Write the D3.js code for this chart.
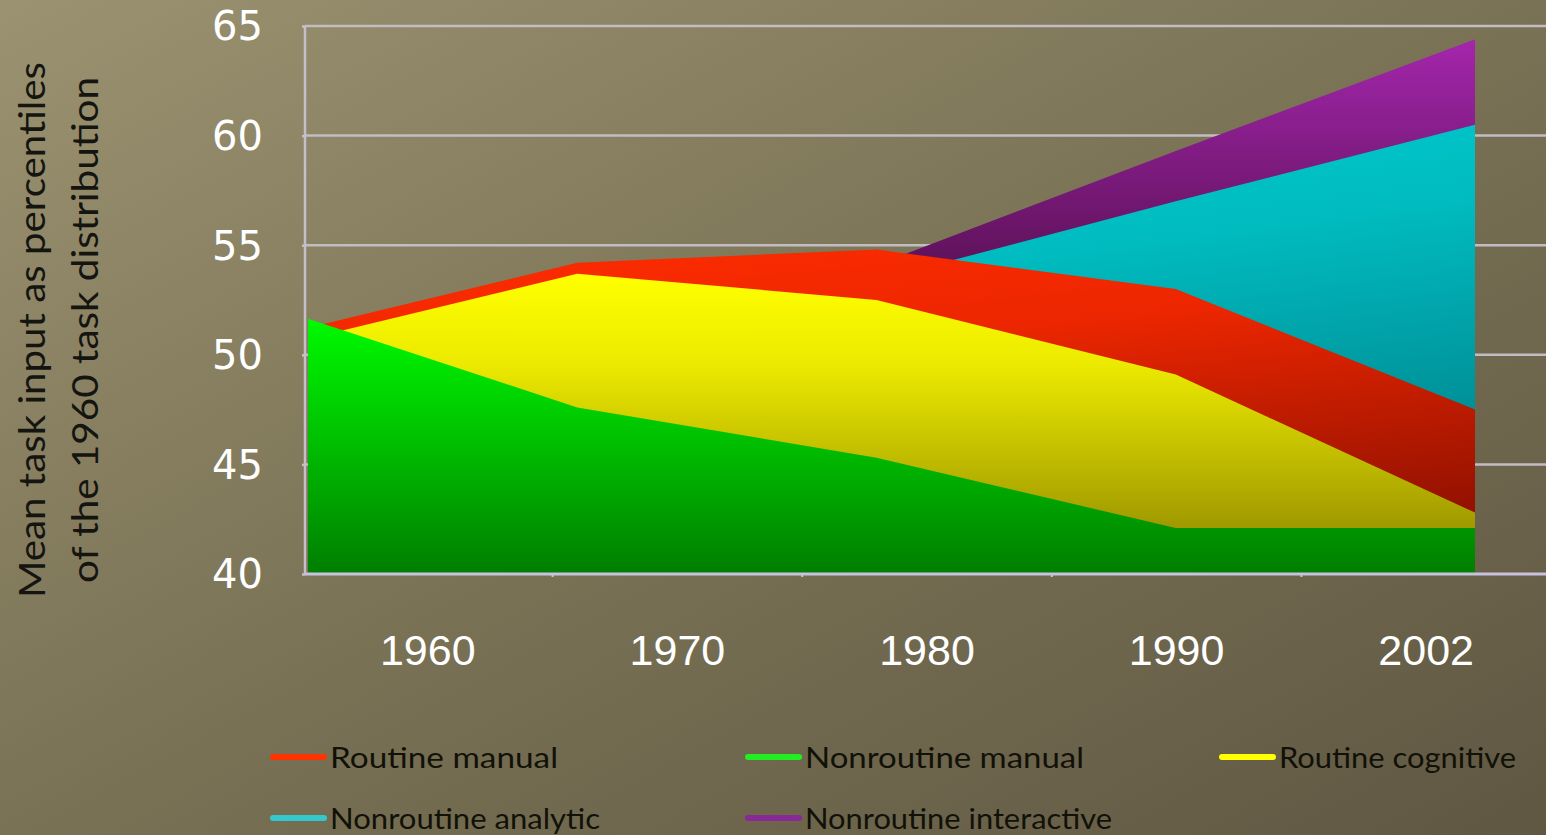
<!DOCTYPE html>
<html>
<head>
<meta charset="utf-8">
<script src="https://cdn.jsdelivr.net/npm/d3@7"></script>
<style>
  html, body { margin: 0; padding: 0; background: #7a7254; overflow: hidden; }
  svg { display: block; }
</style>
</head>
<body>
<svg id="chart" width="1546" height="835"></svg>
<script>
// ---------------- data ----------------
const years = ["1960", "1970", "1980", "1990", "2002"];
const yTicks = [40, 45, 50, 55, 60, 65];
const seriesNames = ["Routine manual", "Nonroutine manual", "Routine cognitive", "Nonroutine analytic", "Nonroutine interactive"];
const routineManual        = [50.9, 54.2, 54.8, 53.0, 47.5];
const nonroutineManual     = [52.1, 47.6, 45.3, 42.1, 42.1];
const routineCognitive     = [50.4, 53.7, 52.5, 49.1, 42.8];
const nonroutineAnalytic   = [50.0, 51.0, 53.4, 57.0, 60.5];
const nonroutineInteractive = [49.5, 51.5, 54.1, 59.3, 64.4];
const yTitle = ["Mean task input as percentiles", "of  the 1960 task distribution"];

// ---------------- layout ----------------
const W = 1546, H = 835;
const plotL = 305, plotR = 1546, plotT = 26, plotB = 574;

const svg = d3.select("#chart");
const defs = svg.append("defs");

// background gradient
const bg = defs.append("linearGradient").attr("id", "bg")
  .attr("x1", 0).attr("y1", 0).attr("x2", 1).attr("y2", 1);
bg.append("stop").attr("offset", 0).attr("stop-color", "#9a9270");
bg.append("stop").attr("offset", 0.5).attr("stop-color", "#7a7255");
bg.append("stop").attr("offset", 1).attr("stop-color", "#5f5742");
svg.append("rect").attr("width", W).attr("height", H).attr("fill", "url(#bg)");

const y = d3.scaleLinear().domain([40, 65]).range([plotB, plotT]);
const xBand = d3.scaleBand().domain(years).range([303, 1551]);
const xArea = d3.scaleLinear().domain([0, years.length - 1]).range([278, 1475]);

// gridlines (behind areas)
const grid = svg.append("g");
grid.selectAll("line").data(yTicks.filter(t => t > 40)).join("line")
  .attr("x1", plotL).attr("x2", plotR)
  .attr("y1", d => y(d)).attr("y2", d => y(d))
  .attr("stroke", "#c2bdc4").attr("stroke-width", 2.5);

// area gradients
function grad(id, stops, x2) {
  const g = defs.append("linearGradient").attr("id", id)
    .attr("x1", 0).attr("y1", 0).attr("x2", x2).attr("y2", 1);
  stops.forEach(([o, c]) => g.append("stop").attr("offset", o).attr("stop-color", c));
}
grad("gPurple", [[0, "#a426ac"], [0.4, "#62135f"], [1, "#3a0a3a"]], 0);
grad("gCyan",   [[0, "#00d2d6"], [0.45, "#00bcc0"], [1, "#00838c"]], 0.35);
grad("gRed",    [[0, "#ff2c00"], [0.4, "#ec2600"], [1, "#961200"]], 0.35);
grad("gYellow", [[0, "#ffff00"], [0.3, "#ecea00"], [1, "#8a8200"]], 0);
grad("gGreen",  [[0, "#00ff00"], [0.4, "#00cc00"], [1, "#007e00"]], 0);

defs.append("clipPath").attr("id", "clip")
  .append("rect").attr("x", 308).attr("y", 0).attr("width", 1476 - 308).attr("height", plotB);

const area = d3.area()
  .x((d, i) => xArea(i))
  .y0(y(40))
  .y1(d => y(d));

const layers = [
  { values: nonroutineInteractive, fill: "url(#gPurple)" },
  { values: nonroutineAnalytic,    fill: "url(#gCyan)" },
  { values: routineManual,         fill: "url(#gRed)" },
  { values: routineCognitive,      fill: "url(#gYellow)" },
  { values: nonroutineManual,      fill: "url(#gGreen)" }
];
svg.append("g").attr("clip-path", "url(#clip)")
  .selectAll("path").data(layers).join("path")
  .attr("d", d => area(d.values))
  .attr("fill", d => d.fill);

// left axis line + ticks
const yAxis = d3.axisLeft(y).tickValues(yTicks).tickSize(3).tickFormat("");
const gy = svg.append("g").attr("transform", `translate(${plotL},0)`).call(yAxis);
gy.selectAll("path, line").attr("stroke", "#c4bfca").attr("stroke-width", 2.5);
gy.select(".domain").attr("d", `M0,${plotT}V${plotB}`);

// bottom axis
svg.append("line").attr("x1", plotL).attr("x2", plotR).attr("y1", plotB).attr("y2", plotB)
  .attr("stroke", "#c8c2e0").attr("stroke-width", 3);
svg.append("g").selectAll("line").data(years.slice(1)).join("line")
  .attr("x1", d => xBand(d)).attr("x2", d => xBand(d))
  .attr("y1", plotB).attr("y2", plotB + 3)
  .attr("stroke", "#c8c2e0").attr("stroke-width", 2);

// y tick labels
svg.append("g").selectAll("text").data(yTicks).join("text")
  .attr("x", 263).attr("y", d => y(d))
  .attr("dy", "0.36em")
  .attr("text-anchor", "end")
  .attr("font-family", "DejaVu Sans, Verdana, sans-serif")
  .attr("font-size", 40)
  .attr("fill", "#ffffff")
  .text(d => d);

// x tick labels
svg.append("g").selectAll("text").data(years).join("text")
  .attr("x", d => xBand(d) + xBand.bandwidth() / 2)
  .attr("y", 665)
  .attr("text-anchor", "middle")
  .attr("font-family", "Liberation Sans, Arial, sans-serif")
  .attr("font-size", 43)
  .attr("fill", "#ffffff")
  .text(d => d);

// y axis title
const titleX = [32, 85];
const titleLen = [536, 506];
svg.append("g").selectAll("text").data(yTitle).join("text")
  .attr("transform", (d, i) => `translate(${titleX[i] + 13},330) rotate(-90)`)
  .attr("text-anchor", "middle")
  .attr("font-family", "Lato, Open Sans, sans-serif")
  .attr("font-size", 37)
  .attr("fill", "#141410")
  .attr("textLength", (d, i) => titleLen[i])
  .attr("lengthAdjust", "spacingAndGlyphs")
  .text(d => d);

// legend
const legendColors = ["#ff3300", "#22ee22", "#ffff00", "#33c8cc", "#8a2898"];
const legendPos = [[270, 757], [745, 757], [1219, 757], [270, 818], [745, 818]];
const legendLen = [228, 279, 237, 270, 307];
const lg = svg.append("g").selectAll("g").data(seriesNames).join("g")
  .attr("transform", (d, i) => `translate(${legendPos[i][0]},${legendPos[i][1]})`);
lg.append("line").attr("x1", 3).attr("x2", 54).attr("y1", 0).attr("y2", 0)
  .attr("stroke", (d, i) => legendColors[i]).attr("stroke-width", 6)
  .attr("stroke-linecap", "round");
lg.append("text").attr("x", 60).attr("y", 11)
  .attr("font-family", "Lato, Open Sans, sans-serif")
  .attr("font-size", 29)
  .attr("fill", "#111108")
  .attr("textLength", (d, i) => legendLen[i])
  .attr("lengthAdjust", "spacingAndGlyphs")
  .text(d => d);
</script>
</body>
</html>
